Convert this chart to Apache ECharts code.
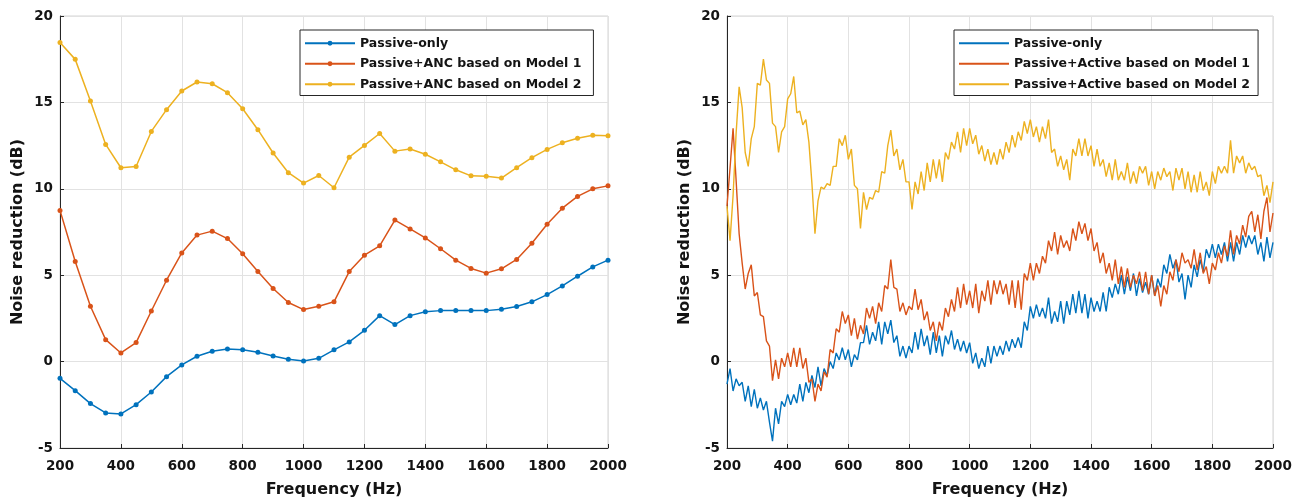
<!DOCTYPE html>
<html>
<head>
<meta charset="utf-8">
<script src="https://cdn.jsdelivr.net/npm/echarts/dist/echarts.min.js"></script>
<style>
html,body{margin:0;padding:0;background:#fff;}
#chart{width:1306px;height:504px;}
</style>
</head>
<body>
<div id="chart"></div>
<script>
// ---------- Left panel (measured at 50 Hz steps) ----------
const freqL = [200,250,300,350,400,450,500,550,600,650,700,750,800,850,900,950,1000,1050,1100,1150,1200,1250,1300,1350,1400,1450,1500,1550,1600,1650,1700,1750,1800,1850,1900,1950,2000];
const passiveL = [-0.97,-1.68,-2.43,-2.97,-3.03,-2.49,-1.76,-0.87,-0.19,0.31,0.6,0.73,0.68,0.54,0.33,0.14,0.04,0.19,0.68,1.14,1.81,2.66,2.14,2.66,2.88,2.95,2.95,2.95,2.95,3.03,3.19,3.46,3.88,4.38,4.94,5.48,5.87];
const model1L = [8.75,5.79,3.2,1.27,0.5,1.1,2.93,4.71,6.29,7.32,7.55,7.12,6.24,5.21,4.23,3.42,3.01,3.2,3.46,5.21,6.16,6.7,8.19,7.68,7.16,6.53,5.87,5.39,5.12,5.37,5.91,6.85,7.95,8.88,9.56,10.0,10.17];
const model2L = [18.46,17.49,15.08,12.57,11.22,11.29,13.32,14.58,15.66,16.18,16.08,15.56,14.63,13.42,12.07,10.93,10.33,10.77,10.06,11.83,12.51,13.2,12.18,12.3,12.0,11.56,11.1,10.75,10.73,10.62,11.22,11.8,12.28,12.66,12.93,13.1,13.07];

// ---------- Right panel (read at 10 Hz steps, 200..2000 Hz) ----------
const freqRStart = 200, freqRStep = 10;
const passiveR = [
-1.3,-0.4,-1.7,-1.0,-1.4,-1.2,-2.3,-1.4,-2.6,-1.6,
-2.7,-2.1,-2.8,-2.3,-3.5,-4.6,-2.7,-3.6,-2.3,-2.6,
-1.9,-2.5,-1.9,-2.4,-1.3,-2.3,-1.2,-1.8,-0.8,-1.5,
-0.3,-1.4,-0.4,-0.8,0.0,-0.4,0.5,0.1,0.8,0.1,
0.7,-0.3,0.4,0.1,1.1,1.1,2.1,1.0,1.7,1.2,
2.3,1.0,2.3,1.6,2.4,1.1,1.5,0.3,0.9,0.2,
0.9,0.5,1.7,0.7,1.9,0.9,1.5,0.4,1.7,0.5,
1.5,0.3,1.5,1.0,1.8,0.7,1.3,0.6,1.2,0.5,
1.1,-0.1,0.5,-0.4,0.2,-0.3,0.9,-0.1,0.9,0.3,
0.9,0.4,1.2,0.6,1.3,0.8,1.4,0.8,2.3,1.8,
3.2,2.5,3.3,2.6,3.1,2.5,3.7,2.2,2.9,2.3,
3.5,2.2,3.5,2.7,3.9,2.8,4.1,2.8,3.9,2.5,
3.7,2.9,3.5,2.9,4.0,2.9,4.3,3.7,4.5,3.9,
5.0,3.9,4.9,4.1,5.1,3.8,4.8,4.0,4.6,3.9,
5.0,3.8,4.8,4.3,5.6,5.1,6.2,5.4,5.9,4.6,
5.1,3.6,5.0,4.3,5.6,4.9,5.9,5.2,6.5,6.0,
6.8,6.0,6.8,6.2,6.9,5.8,6.9,5.8,6.9,6.2,
7.3,6.6,7.3,6.8,7.3,6.2,6.9,5.8,7.2,6.0,
6.9];
const model1R = [
9.0,11.2,13.5,10.5,7.4,5.7,4.2,5.1,5.6,3.8,
4.0,2.7,2.6,1.2,0.9,-1.1,0.1,-1.0,0.2,-0.3,
0.5,-0.3,0.8,-0.3,0.8,-0.4,0.2,-1.2,-1.0,-2.3,
-1.3,-1.7,-0.6,-0.9,0.7,0.5,1.9,1.7,2.9,2.2,
2.7,1.5,2.5,1.3,2.1,1.6,3.1,2.5,3.2,2.2,
3.4,2.9,4.4,4.2,5.9,4.3,4.2,2.9,3.4,2.7,
3.2,3.0,4.2,3.0,3.6,2.4,2.9,1.8,2.3,1.2,
2.3,1.8,3.1,2.6,3.6,2.9,4.3,3.1,4.5,3.3,
4.1,3.1,4.5,2.8,4.1,3.5,4.7,3.3,4.7,3.9,
4.7,3.9,4.5,3.3,4.7,3.1,4.7,3.0,5.1,4.7,
5.7,4.7,5.7,5.1,6.1,5.7,7.0,6.4,7.5,6.2,
7.3,6.6,7.0,6.4,7.7,7.0,8.1,7.4,8.0,7.0,
7.7,6.4,6.9,5.7,6.3,5.1,5.7,4.7,5.9,4.5,
5.5,4.3,5.4,4.3,5.0,4.5,5.2,4.1,5.2,3.9,
5.0,3.8,4.4,3.2,4.4,3.9,5.2,4.7,5.9,5.2,
6.3,5.7,5.9,5.4,6.5,5.3,6.3,5.1,5.5,4.5,
5.7,5.3,6.3,5.7,6.7,6.1,7.6,6.2,7.3,6.8,
7.9,7.2,8.4,8.7,7.5,8.5,7.1,8.7,9.5,7.5,
8.6];
const model2R = [
9.0,7.0,9.6,13.2,15.9,14.7,12.1,11.3,12.9,13.6,
16.1,16.0,17.5,16.3,16.1,13.8,13.6,12.1,13.3,13.6,
15.2,15.5,16.5,14.4,14.5,13.7,14.0,12.7,10.3,7.4,
9.3,10.1,10.0,10.3,10.2,11.3,11.3,12.9,12.5,13.1,
11.7,12.3,10.2,10.0,7.7,9.8,8.8,9.5,9.4,9.9,
9.8,11.0,10.9,12.5,13.4,11.9,12.3,11.1,11.7,10.4,
10.4,8.8,10.4,9.7,11.0,9.9,11.5,10.4,11.7,10.6,
11.7,10.4,12.1,11.7,12.7,12.3,13.3,12.1,13.5,12.5,
13.5,12.6,13.1,12.0,12.5,11.6,12.3,11.4,12.1,11.4,
12.3,11.7,12.7,12.1,13.1,12.4,13.3,12.8,13.9,13.2,
14.0,13.0,13.6,12.7,13.6,12.9,14.0,12.1,12.3,11.3,
11.9,11.1,11.7,10.5,12.3,11.9,12.9,11.9,12.9,11.9,
12.5,11.3,12.3,11.3,11.7,10.7,11.5,10.5,11.7,10.5,
11.0,10.5,11.5,10.3,11.0,10.3,11.3,10.9,11.3,10.2,
11.0,10.0,11.0,10.5,11.2,10.7,11.0,9.9,11.2,10.5,
11.2,10.0,11.0,9.8,10.8,9.8,11.0,9.9,10.4,9.6,
11.0,10.3,11.3,10.9,11.3,10.9,12.8,10.9,11.9,11.5,
11.9,10.9,11.5,11.1,11.3,10.7,10.8,9.6,10.2,9.2,
10.4];

const namesL = ['Passive-only','Passive+ANC based on Model 1','Passive+ANC based on Model 2'];
const namesR = ['Passive-only ','Passive+Active based on Model 1','Passive+Active based on Model 2'];
const colors = ['#0072BD','#D95319','#EDB120'];
const yTicks = {min:-5, max:20, interval:5};
const xTicks = {min:200, max:2000, interval:200};

function pairs(xs, ys){ return ys.map((y,i)=>[xs[i], y]); }
function pairsStep(start, step, ys){ return ys.map((y,i)=>[start+step*i, y]); }

const FONT = '"DejaVu Sans", sans-serif';
const TXT = '#141414';

function xAxisCfg(gi){
  return {
    type:'value', gridIndex:gi, min:xTicks.min, max:xTicks.max, interval:xTicks.interval,
    name:'Frequency (Hz)', nameLocation:'middle', nameGap:34,
    nameTextStyle:{fontSize:16, fontWeight:'bold', color:TXT, fontFamily:FONT},
    axisLine:{show:true, onZero:false, lineStyle:{color:'#262626', width:1}},
    axisTick:{show:true, inside:true, length:4, lineStyle:{color:'#262626'}},
    axisLabel:{fontSize:13.5, fontWeight:'bold', color:TXT, fontFamily:FONT, margin:11,
               formatter:function(v){ return String(v); }},
    splitLine:{show:true, lineStyle:{color:'#e2e2e2', width:1}}
  };
}
function yAxisCfg(gi){
  return {
    type:'value', gridIndex:gi, min:yTicks.min, max:yTicks.max, interval:yTicks.interval,
    name:'Noise reduction (dB)', nameLocation:'middle', nameGap:34, nameRotate:90,
    nameTextStyle:{fontSize:16, fontWeight:'bold', color:TXT, fontFamily:FONT},
    axisLine:{show:true, onZero:false, lineStyle:{color:'#262626', width:1}},
    axisTick:{show:true, inside:true, length:4, lineStyle:{color:'#262626'}},
    axisLabel:{fontSize:13.5, fontWeight:'bold', color:TXT, fontFamily:FONT, margin:7},
    splitLine:{show:true, lineStyle:{color:'#e2e2e2', width:1}}
  };
}
function legendCfg(left, data, padRight){
  return {
    left:left, top:30, orient:'vertical', data:data, selectedMode:false,
    itemWidth:50, itemHeight:6, itemGap:6, padding:[6,padRight,4,4],
    borderColor:'#262626', borderWidth:1, backgroundColor:'#ffffff',
    textStyle:{fontSize:12.5, fontWeight:'bold', color:TXT, fontFamily:FONT, lineHeight:14.5}
  };
}

const leftSeries = [passiveL, model1L, model2L].map((d,i)=>({
  type:'line', name:namesL[i], xAxisIndex:0, yAxisIndex:0,
  data:pairs(freqL, d), symbol:'circle', symbolSize:5, showSymbol:true,
  lineStyle:{color:colors[i], width:1.5}, itemStyle:{color:colors[i]},
  emphasis:{disabled:true}
}));
const rightSeries = [passiveR, model1R, model2R].map((d,i)=>({
  type:'line', name:namesR[i], xAxisIndex:1, yAxisIndex:1,
  data:pairsStep(freqRStart, freqRStep, d), symbol:'none', showSymbol:false,
  lineStyle:{color:colors[i], width:1.4}, itemStyle:{color:colors[i]},
  emphasis:{disabled:true}
}));

const chart = echarts.init(document.getElementById('chart'), null, {renderer:'canvas'});
chart.setOption({
  animation:false,
  backgroundColor:'#ffffff',
  grid:[
    {left:60, top:16, width:548, height:432, show:true, borderColor:'#d4d4d4', borderWidth:1},
    {left:727, top:16, width:546, height:432, show:true, borderColor:'#d4d4d4', borderWidth:1}
  ],
  xAxis:[xAxisCfg(0), xAxisCfg(1)],
  yAxis:[yAxisCfg(0), yAxisCfg(1)],
  legend:[
    legendCfg(300, namesL, 12),
    legendCfg(954, namesR.map(n=>({name:n, itemStyle:{opacity:0}})), 8)
  ],
  series: leftSeries.concat(rightSeries)
});
</script>
</body>
</html>
